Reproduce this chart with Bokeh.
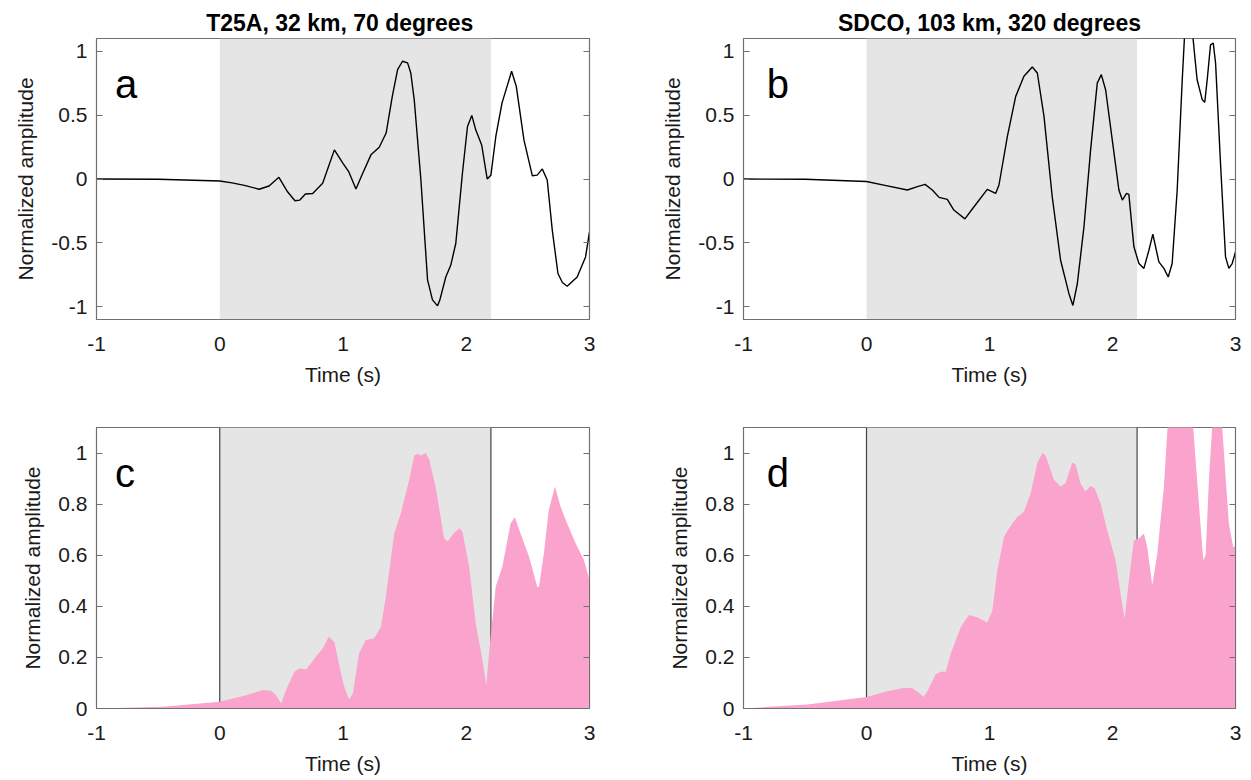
from bokeh.plotting import figure
from bokeh.layouts import column, row
from bokeh.models import (BoxAnnotation, Span, Label, LinearAxis, FixedTicker,
                          NumeralTickFormatter, Range1d)
from bokeh.embed import file_html
from bokeh.resources import INLINE

# ---------------- data ----------------
titles = ["T25A, 32 km,  70 degrees", "SDCO, 103 km, 320 degrees"]
panel_letters = ["a", "b", "c", "d"]
window_start = 0.0
window_end = 2.2
x_ticks = [-1, 0, 1, 2, 3]
y_ticks_wave = [-1, -0.5, 0, 0.5, 1]
y_ticks_env = [0, 0.2, 0.4, 0.6, 0.8, 1]

# panel a: T25A waveform
t_a = [-1.0, -0.5, 0.0, 0.1, 0.2, 0.32, 0.40, 0.48, 0.55, 0.61, 0.65, 0.695, 0.754,
       0.835, 0.93, 1.0, 1.046, 1.105, 1.16, 1.227, 1.294, 1.35, 1.40, 1.443,
       1.483, 1.524, 1.55, 1.578, 1.632, 1.686, 1.726, 1.767, 1.785, 1.834,
       1.874, 1.915, 1.969, 2.01, 2.045, 2.077, 2.125, 2.17, 2.20, 2.24, 2.29,
       2.368, 2.406, 2.468, 2.536, 2.576, 2.617, 2.657, 2.698, 2.744, 2.78,
       2.819, 2.90, 2.968, 3.0]
amp_a = [0.0, -0.002, -0.016, -0.03, -0.05, -0.08, -0.055, 0.013, -0.10, -0.17,
         -0.165, -0.118, -0.113, -0.034, 0.228, 0.123, 0.058, -0.079, 0.045,
         0.189, 0.249, 0.36, 0.647, 0.856, 0.922, 0.909, 0.83, 0.62, -0.008,
         -0.79, -0.946, -0.993, -0.95, -0.767, -0.676, -0.505, 0.045, 0.411,
         0.498, 0.385, 0.267, 0.0, 0.03, 0.333, 0.594, 0.843, 0.725, 0.306,
         0.026, 0.03, 0.079, -0.008, -0.40, -0.74, -0.81, -0.84, -0.767, -0.61,
         -0.414]

# panel b: SDCO waveform
t_b = [-1.0, -0.5, 0.0, 0.15, 0.332, 0.414, 0.476, 0.535, 0.59, 0.657, 0.71,
       0.80, 0.874, 0.982, 1.05, 1.077, 1.145, 1.213, 1.28, 1.348, 1.389,
       1.443, 1.51, 1.578, 1.646, 1.678, 1.714, 1.768, 1.822, 1.876, 1.909,
       1.944, 1.998, 2.052, 2.08, 2.114, 2.133, 2.174, 2.215, 2.255, 2.296,
       2.328, 2.377, 2.418, 2.453, 2.485, 2.526, 2.567, 2.59, 2.62, 2.645,
       2.67, 2.688, 2.73, 2.75, 2.77, 2.797, 2.819, 2.838, 2.878, 2.919,
       2.946, 2.973, 3.0]
amp_b = [0.0, -0.002, -0.02, -0.05, -0.086, -0.06, -0.042, -0.086, -0.144,
         -0.16, -0.243, -0.312, -0.217, -0.081, -0.113, -0.047, 0.332, 0.647,
         0.804, 0.877, 0.83, 0.49, -0.139, -0.636, -0.898, -0.99, -0.82,
         -0.374, 0.228, 0.751, 0.817, 0.699, 0.306, -0.086, -0.165, -0.113,
         -0.12, -0.531, -0.662, -0.70, -0.558, -0.432, -0.649, -0.70, -0.767,
         -0.662, -0.086, 0.777, 1.2, 1.35, 1.2, 0.95, 0.777, 0.62, 0.60,
         0.777, 1.05, 1.065, 0.908, 0.123, -0.61, -0.70, -0.662, -0.571]

# panel c: T25A envelope
t_c = [-1.0, -0.46, 0.0, 0.215, 0.35, 0.417, 0.457, 0.498, 0.538, 0.606,
       0.646, 0.70, 0.78, 0.835, 0.884, 0.93, 0.984, 1.01, 1.05, 1.08, 1.13,
       1.186, 1.254, 1.308, 1.348, 1.416, 1.47, 1.537, 1.578, 1.605, 1.632,
       1.672, 1.70, 1.753, 1.82, 1.848, 1.90, 1.942, 1.969, 2.023, 2.077,
       2.131, 2.163, 2.185, 2.239, 2.293, 2.36, 2.395, 2.44, 2.509, 2.576,
       2.59, 2.63, 2.67, 2.72, 2.765, 2.806, 2.887, 2.954, 3.0]
env_c = [0.0, 0.007, 0.026, 0.052, 0.072, 0.069, 0.052, 0.02, 0.072, 0.144,
         0.157, 0.153, 0.203, 0.235, 0.281, 0.26, 0.137, 0.085, 0.035, 0.059,
         0.216, 0.268, 0.275, 0.32, 0.438, 0.686, 0.765, 0.895, 0.99, 0.997,
         0.99, 1.0, 0.974, 0.863, 0.667, 0.654, 0.686, 0.706, 0.693, 0.556,
         0.333, 0.19, 0.092, 0.216, 0.477, 0.556, 0.725, 0.749, 0.686, 0.595,
         0.477, 0.477, 0.608, 0.778, 0.869, 0.791, 0.739, 0.647, 0.582, 0.503]

# panel d: SDCO envelope
t_d = [-1.0, -0.48, 0.0, 0.17, 0.305, 0.373, 0.427, 0.462, 0.495, 0.563,
       0.603, 0.644, 0.684, 0.766, 0.833, 0.90, 0.982, 1.023, 1.064, 1.118,
       1.158, 1.226, 1.28, 1.335, 1.389, 1.43, 1.456, 1.524, 1.578, 1.618,
       1.673, 1.70, 1.74, 1.78, 1.822, 1.855, 1.903, 1.957, 2.025, 2.066,
       2.098, 2.133, 2.174, 2.215, 2.255, 2.282, 2.323, 2.364, 2.418, 2.45,
       2.5, 2.55, 2.61, 2.656, 2.702, 2.738, 2.757, 2.784, 2.81, 2.85, 2.892,
       2.946, 2.981, 3.0]
env_d = [0.0, 0.016, 0.045, 0.068, 0.081, 0.079, 0.062, 0.045, 0.068, 0.134,
         0.144, 0.144, 0.213, 0.318, 0.366, 0.357, 0.337, 0.383, 0.541, 0.672,
         0.705, 0.75, 0.77, 0.843, 0.961, 1.0, 0.99, 0.895, 0.869, 0.882,
         0.963, 0.954, 0.882, 0.849, 0.871, 0.862, 0.803, 0.698, 0.58, 0.449,
         0.35, 0.501, 0.659, 0.665, 0.685, 0.633, 0.482, 0.606, 0.869, 1.12,
         1.35, 1.42, 1.35, 1.1, 0.803, 0.58, 0.60, 0.895, 1.1, 1.2, 1.1,
         0.724, 0.633, 0.633]

# ---------------- styling ----------------
FONT = "Liberation Sans"
FRAME = "#707070"
TXT = "#1a1a1a"
SHADE = "#e5e5e5"
PINK = "#f9a3cd"
TICK_FS = "21px"
LABEL_FS = "21px"


def make_panel(kind, w, h, bl, br, bt, bb, title=None):
    p = figure(width=w, height=h, output_backend="svg", toolbar_location=None,
               min_border_left=bl, min_border_right=br, min_border_top=bt,
               min_border_bottom=bb, x_range=Range1d(-1, 3),
               y_range=Range1d(-1.1, 1.1) if kind == "wave" else Range1d(0, 1.1),
               title=title)
    p.grid.visible = False
    p.outline_line_color = FRAME
    p.outline_line_width = 1.2
    p.background_fill_color = "white"
    p.border_fill_color = "white"
    if title:
        p.title.text_font = FONT
        p.title.text_font_size = "23px"
        p.title.text_font_style = "bold"
        p.title.text_color = "black"
        p.title.align = "center"
        p.title.standoff = 6
    yt = y_ticks_wave if kind == "wave" else y_ticks_env
    # x axis
    xa = p.xaxis[0]
    xa.ticker = FixedTicker(ticks=x_ticks)
    xa.formatter = NumeralTickFormatter(format="0")
    xa.major_tick_in = 0
    xa.major_tick_out = 0
    xa.minor_tick_line_color = None
    xa.axis_line_color = FRAME
    xa.axis_label = "Time (s)"
    xa.axis_label_text_font = FONT
    xa.axis_label_text_font_size = LABEL_FS
    xa.axis_label_text_font_style = "normal"
    xa.axis_label_text_color = TXT
    xa.axis_label_standoff = 9
    xa.major_label_text_font = FONT
    xa.major_label_text_font_size = TICK_FS
    xa.major_label_text_color = TXT
    xa.major_label_standoff = 17
    # y axis
    ya = p.yaxis[0]
    ya.ticker = FixedTicker(ticks=yt)
    ya.formatter = NumeralTickFormatter(format="0.[0]")
    ya.major_tick_in = 6
    ya.major_tick_out = 0
    ya.major_tick_line_color = FRAME
    ya.minor_tick_line_color = None
    ya.axis_line_color = FRAME
    ya.axis_label = "Normalized amplitude"
    ya.axis_label_text_font = FONT
    ya.axis_label_text_font_size = LABEL_FS
    ya.axis_label_text_font_style = "normal"
    ya.axis_label_text_color = TXT
    ya.axis_label_standoff = 11
    ya.major_label_text_font = FONT
    ya.major_label_text_font_size = TICK_FS
    ya.major_label_text_color = TXT
    ya.major_label_standoff = 9
    # right-hand ticks (box style)
    ra = LinearAxis(ticker=FixedTicker(ticks=yt), major_tick_in=6,
                    major_tick_out=0, major_tick_line_color=FRAME,
                    minor_tick_line_color=None, axis_line_color=FRAME,
                    major_label_text_color=None, major_label_text_font_size="1px",
                    major_label_standoff=0)
    p.add_layout(ra, "right")
    # analysis window shading
    p.add_layout(BoxAnnotation(left=window_start, right=window_end,
                               fill_color=SHADE, fill_alpha=1.0, line_color=None,
                               level="underlay"))
    return p


def add_letter(p, letter, x, y):
    p.add_layout(Label(x=x, y=y, text=letter, text_font=FONT,
                       text_font_size="40px", text_color="black",
                       text_baseline="alphabetic", text_align="left"))


# top row
pa = make_panel("wave", 640, 390, 96, 51, 38, 71, titles[0])
pa.line(t_a, amp_a, line_color="black", line_width=1.4)
add_letter(pa, panel_letters[0], -0.85, 0.74)

pb = make_panel("wave", 611, 390, 103, 16, 38, 71, titles[1])
pb.line(t_b, amp_b, line_color="black", line_width=1.4)
add_letter(pb, panel_letters[1], -0.81, 0.74)

# bottom row
pc = make_panel("env", 640, 390, 96, 51, 37, 72)
for loc in (window_start, window_end):
    pc.add_layout(Span(location=loc, dimension="height", line_color="#444444",
                       line_width=1.2, level="underlay"))
pc.varea(x=t_c, y1=[0] * len(t_c), y2=env_c, fill_color=PINK)
add_letter(pc, panel_letters[2], -0.85, 0.92)

pd = make_panel("env", 611, 390, 103, 16, 37, 72)
for loc in (window_start, window_end):
    pd.add_layout(Span(location=loc, dimension="height", line_color="#444444",
                       line_width=1.2, level="underlay"))
pd.varea(x=t_d, y1=[0] * len(t_d), y2=env_d, fill_color=PINK)
add_letter(pd, panel_letters[3], -0.81, 0.92)

layout = column(row(pa, pb, spacing=0), row(pc, pd, spacing=0), spacing=0)

open("out.html", "w").write(file_html(layout, INLINE))
